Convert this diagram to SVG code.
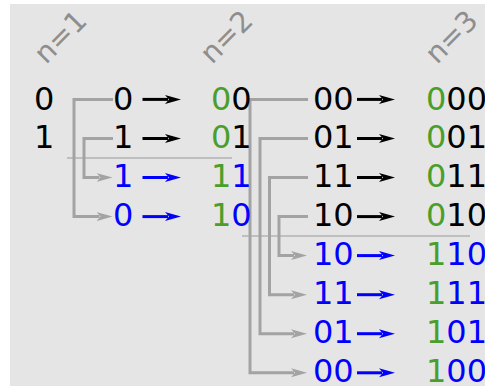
<svg xmlns="http://www.w3.org/2000/svg" width="485" height="386" viewBox="0 0 485 386">
<style>
text{font-family:"DejaVu Sans","Liberation Sans",sans-serif;font-size:32px;}
.k{fill:#000}
.b{fill:#0000ff}
.g{fill:#4a9e2c}
.lbl{fill:#8e8e8e;font-size:28.5px}
.con{fill:none;stroke:#a3a3a3;stroke-width:3}
.ak{stroke:#000;stroke-width:3;fill:none}
.ab{stroke:#0000ff;stroke-width:3;fill:none}
.sep{stroke:#9a9a9a;stroke-width:1.2;fill:none}
</style>
<defs>
<marker id="hg" markerUnits="userSpaceOnUse" markerWidth="20" markerHeight="12" refX="3" refY="6" orient="auto"><path d="M0,1.5 L16,6 L0,10.5 L4,6 z" fill="#a3a3a3"/></marker>
<marker id="hk" markerUnits="userSpaceOnUse" markerWidth="20" markerHeight="12" refX="3" refY="6" orient="auto"><path d="M0,1.5 L16,6 L0,10.5 L4,6 z" fill="#000"/></marker>
<marker id="hb" markerUnits="userSpaceOnUse" markerWidth="20" markerHeight="12" refX="3" refY="6" orient="auto"><path d="M0,1.5 L16,6 L0,10.5 L4,6 z" fill="#0000ff"/></marker>
</defs>
<rect x="10" y="4" width="480" height="390" fill="#e5e5e5"/>
<g id="labels">
<text class="lbl" transform="translate(46,65) rotate(-45)">n=1</text>
<text class="lbl" transform="translate(212,65) rotate(-45)">n=2</text>
<text class="lbl" transform="translate(437,65) rotate(-45)">n=3</text>
</g>
<g id="separators">
<line class="sep" x1="67" y1="158" x2="232" y2="158"/>
<line class="sep" x1="242" y1="236" x2="470" y2="236"/>
</g>
<g id="connectors">
<path class="con" d="M113,99.4 H74 V216.6 H99.5" marker-end="url(#hg)"/>
<path class="con" d="M113,138.5 H84 V177.5 H99.5" marker-end="url(#hg)"/>
<path class="con" d="M308,99.4 H250 V372.8 H294" marker-end="url(#hg)"/>
<path class="con" d="M308,138.5 H260 V333.7 H294" marker-end="url(#hg)"/>
<path class="con" d="M308,177.5 H269.5 V294.7 H294" marker-end="url(#hg)"/>
<path class="con" d="M308,216.6 H279 V255.6 H294" marker-end="url(#hg)"/>
<path class="ak" d="M142.5,99.4 H168" marker-end="url(#hk)"/>
<path class="ak" d="M142.5,138.5 H168" marker-end="url(#hk)"/>
<path class="ab" d="M142.5,177.5 H168" marker-end="url(#hb)"/>
<path class="ab" d="M142.5,216.6 H168" marker-end="url(#hb)"/>
<path class="ak" d="M357,99.4 H382" marker-end="url(#hk)"/>
<path class="ak" d="M357,138.5 H382" marker-end="url(#hk)"/>
<path class="ak" d="M357,177.5 H382" marker-end="url(#hk)"/>
<path class="ak" d="M357,216.6 H382" marker-end="url(#hk)"/>
<path class="ab" d="M357,255.6 H382" marker-end="url(#hb)"/>
<path class="ab" d="M357,294.7 H382" marker-end="url(#hb)"/>
<path class="ab" d="M357,333.7 H382" marker-end="url(#hb)"/>
<path class="ab" d="M357,372.8 H382" marker-end="url(#hb)"/>
</g>
<g id="n1">
<text class="k" x="34" y="109.5">0</text>
<text class="k" x="34" y="148.4">1</text>
</g>
<g id="n1-reflected">
<text class="k" x="113" y="109.5">0</text>
<text class="k" x="113" y="148.4">1</text>
<text class="b" x="113" y="187.3">1</text>
<text class="b" x="113" y="226.2">0</text>
</g>
<g id="n2">
<text x="211" y="109.5"><tspan class="g">0</tspan><tspan class="k">0</tspan></text>
<text x="211" y="148.4"><tspan class="g">0</tspan><tspan class="k">1</tspan></text>
<text x="211" y="187.3"><tspan class="g">1</tspan><tspan class="b">1</tspan></text>
<text x="211" y="226.2"><tspan class="g">1</tspan><tspan class="b">0</tspan></text>
</g>
<g id="n2-reflected">
<text class="k" x="313" y="109.5">00</text>
<text class="k" x="313" y="148.4">01</text>
<text class="k" x="313" y="187.3">11</text>
<text class="k" x="313" y="226.2">10</text>
<text class="b" x="313" y="265.1">10</text>
<text class="b" x="313" y="304">11</text>
<text class="b" x="313" y="342.9">01</text>
<text class="b" x="313" y="381.8">00</text>
</g>
<g id="n3">
<text x="426" y="109.5"><tspan class="g">0</tspan><tspan class="k">00</tspan></text>
<text x="426" y="148.4"><tspan class="g">0</tspan><tspan class="k">01</tspan></text>
<text x="426" y="187.3"><tspan class="g">0</tspan><tspan class="k">11</tspan></text>
<text x="426" y="226.2"><tspan class="g">0</tspan><tspan class="k">10</tspan></text>
<text x="426" y="265.1"><tspan class="g">1</tspan><tspan class="b">10</tspan></text>
<text x="426" y="304"><tspan class="g">1</tspan><tspan class="b">11</tspan></text>
<text x="426" y="342.9"><tspan class="g">1</tspan><tspan class="b">01</tspan></text>
<text x="426" y="381.8"><tspan class="g">1</tspan><tspan class="b">00</tspan></text>
</g>
</svg>
